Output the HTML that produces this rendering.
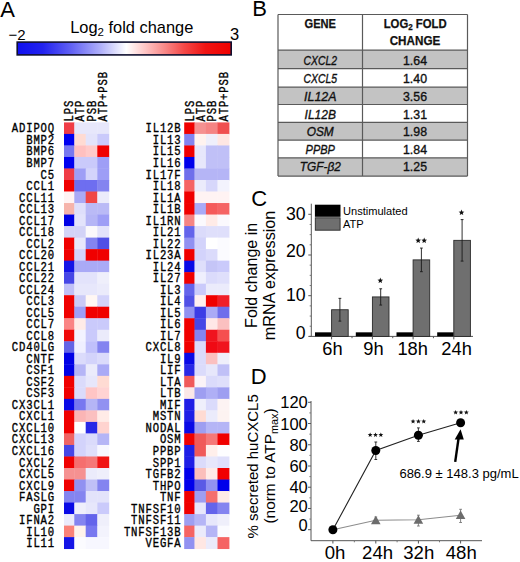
<!DOCTYPE html>
<html><head><meta charset="utf-8"><style>
html,body{margin:0;padding:0;background:#fff;width:520px;height:562px;overflow:hidden}
svg{display:block}
text{font-family:"Liberation Sans",sans-serif;fill:#000}
.g{font-family:"Liberation Mono",monospace;font-weight:normal;font-size:10.6px;letter-spacing:0.85px;stroke:#000;stroke-width:0.3px}
.th{font-weight:bold;font-size:12px;fill:#111;stroke:#111;stroke-width:0.25px}
.ti{font-style:italic;font-size:12.5px;fill:#111;stroke:#111;stroke-width:0.35px}
.tv{font-size:12.5px;fill:#111;stroke:#111;stroke-width:0.35px}
.ax{stroke:#555;stroke-width:1}
.ax2{stroke:#777;stroke-width:1}
</style></head><body>
<svg width="520" height="562" viewBox="0 0 520 562">
<defs>
<linearGradient id="cg" x1="0" x2="1" y1="0" y2="0">
<stop offset="0" stop-color="#1010f0"/>
<stop offset="0.12" stop-color="#2222f0"/>
<stop offset="0.25" stop-color="#6060f4"/>
<stop offset="0.39" stop-color="#b0b0fa"/>
<stop offset="0.51" stop-color="#ffffff"/>
<stop offset="0.6" stop-color="#ffc4c4"/>
<stop offset="0.69" stop-color="#f88888"/>
<stop offset="0.78" stop-color="#f44848"/>
<stop offset="0.88" stop-color="#f01414"/>
<stop offset="1" stop-color="#f00000"/>
</linearGradient>
</defs>
<text x="0.3" y="16.7" font-size="22">A</text>
<text x="252.2" y="16.4" font-size="22">B</text>
<text x="251.3" y="206.1" font-size="22">C</text>
<text x="250.8" y="383.8" font-size="22">D</text>
<text x="70.2" y="32.6" font-size="16.4">Log<tspan font-size="11.5" dy="3.5">2</tspan><tspan dy="-3.5"> fold change</tspan></text>
<text x="8.5" y="39.7" font-size="15">&#8722;2</text>
<text x="229.9" y="39.6" font-size="16.5">3</text>
<rect x="17.2" y="42.1" width="214" height="12.8" fill="url(#cg)" stroke="#101030" stroke-width="1.6"/>
<rect x="64" y="122.4" width="10.7" height="11.92" fill="#f03c46"/>
<rect x="74.3" y="122.4" width="11.8" height="11.92" fill="#e7e7fb"/>
<rect x="85.7" y="122.4" width="12" height="11.92" fill="#e7e7fb"/>
<rect x="97.3" y="122.4" width="11.9" height="11.92" fill="#e7e7fb"/>
<rect x="64" y="133.92" width="10.7" height="11.92" fill="#0000f0"/>
<rect x="74.3" y="133.92" width="11.8" height="11.92" fill="#ffdbd3"/>
<rect x="85.7" y="133.92" width="12" height="11.92" fill="#e3e3fb"/>
<rect x="97.3" y="133.92" width="11.9" height="11.92" fill="#cacafb"/>
<rect x="64" y="145.44" width="10.7" height="11.92" fill="#7878f0"/>
<rect x="74.3" y="145.44" width="11.8" height="11.92" fill="#ffc0c0"/>
<rect x="85.7" y="145.44" width="12" height="11.92" fill="#ffcaca"/>
<rect x="97.3" y="145.44" width="11.9" height="11.92" fill="#f00000"/>
<rect x="64" y="156.96" width="10.7" height="11.92" fill="#0000f0"/>
<rect x="74.3" y="156.96" width="11.8" height="11.92" fill="#cacafb"/>
<rect x="85.7" y="156.96" width="12" height="11.92" fill="#cacafb"/>
<rect x="97.3" y="156.96" width="11.9" height="11.92" fill="#9e9ef6"/>
<rect x="64" y="168.48" width="10.7" height="11.92" fill="#f03c46"/>
<rect x="74.3" y="168.48" width="11.8" height="11.92" fill="#9e9ef6"/>
<rect x="85.7" y="168.48" width="12" height="11.92" fill="#d3d3fb"/>
<rect x="97.3" y="168.48" width="11.9" height="11.92" fill="#9e9ef6"/>
<rect x="64" y="180" width="10.7" height="11.92" fill="#f00000"/>
<rect x="74.3" y="180" width="11.8" height="11.92" fill="#6e6ef0"/>
<rect x="85.7" y="180" width="12" height="11.92" fill="#6e6ef0"/>
<rect x="97.3" y="180" width="11.9" height="11.92" fill="#8484f0"/>
<rect x="64" y="191.52" width="10.7" height="11.92" fill="#fff3f3"/>
<rect x="74.3" y="191.52" width="11.8" height="11.92" fill="#aaaaf6"/>
<rect x="85.7" y="191.52" width="12" height="11.92" fill="#f04646"/>
<rect x="97.3" y="191.52" width="11.9" height="11.92" fill="#ebebfb"/>
<rect x="64" y="203.04" width="10.7" height="11.92" fill="#f6b4ab"/>
<rect x="74.3" y="203.04" width="11.8" height="11.92" fill="#dfdffb"/>
<rect x="85.7" y="203.04" width="12" height="11.92" fill="#babaf6"/>
<rect x="97.3" y="203.04" width="11.9" height="11.92" fill="#babaf6"/>
<rect x="64" y="214.56" width="10.7" height="11.92" fill="#0000e6"/>
<rect x="74.3" y="214.56" width="11.8" height="11.92" fill="#e3e3fb"/>
<rect x="85.7" y="214.56" width="12" height="11.92" fill="#b5b5f6"/>
<rect x="97.3" y="214.56" width="11.9" height="11.92" fill="#9e9ef6"/>
<rect x="64" y="226.08" width="10.7" height="11.92" fill="#d3d3f7"/>
<rect x="74.3" y="226.08" width="11.8" height="11.92" fill="#d3d3f7"/>
<rect x="85.7" y="226.08" width="12" height="11.92" fill="#fbf9fb"/>
<rect x="97.3" y="226.08" width="11.9" height="11.92" fill="#e3e3fb"/>
<rect x="64" y="237.6" width="10.7" height="11.92" fill="#f00000"/>
<rect x="74.3" y="237.6" width="11.8" height="11.92" fill="#e7e7fb"/>
<rect x="85.7" y="237.6" width="12" height="11.92" fill="#8484f0"/>
<rect x="97.3" y="237.6" width="11.9" height="11.92" fill="#5050e6"/>
<rect x="64" y="249.12" width="10.7" height="11.92" fill="#f00000"/>
<rect x="74.3" y="249.12" width="11.8" height="11.92" fill="#d3d3fb"/>
<rect x="85.7" y="249.12" width="12" height="11.92" fill="#f00000"/>
<rect x="97.3" y="249.12" width="11.9" height="11.92" fill="#f00000"/>
<rect x="64" y="260.64" width="10.7" height="11.92" fill="#1414e6"/>
<rect x="74.3" y="260.64" width="11.8" height="11.92" fill="#aaaaf6"/>
<rect x="85.7" y="260.64" width="12" height="11.92" fill="#aaaaf6"/>
<rect x="97.3" y="260.64" width="11.9" height="11.92" fill="#aaaaf6"/>
<rect x="64" y="272.16" width="10.7" height="11.92" fill="#4646e6"/>
<rect x="74.3" y="272.16" width="11.8" height="11.92" fill="#e3e3fb"/>
<rect x="85.7" y="272.16" width="12" height="11.92" fill="#e3e3fb"/>
<rect x="97.3" y="272.16" width="11.9" height="11.92" fill="#efeffb"/>
<rect x="64" y="283.68" width="10.7" height="11.92" fill="#c0c0f7"/>
<rect x="74.3" y="283.68" width="11.8" height="11.92" fill="#e7e7fb"/>
<rect x="85.7" y="283.68" width="12" height="11.92" fill="#e7e7fb"/>
<rect x="97.3" y="283.68" width="11.9" height="11.92" fill="#ebebfb"/>
<rect x="64" y="295.2" width="10.7" height="11.92" fill="#f00000"/>
<rect x="74.3" y="295.2" width="11.8" height="11.92" fill="#cacaf7"/>
<rect x="85.7" y="295.2" width="12" height="11.92" fill="#fff7f3"/>
<rect x="97.3" y="295.2" width="11.9" height="11.92" fill="#d3d3fb"/>
<rect x="64" y="306.72" width="10.7" height="11.92" fill="#f00000"/>
<rect x="74.3" y="306.72" width="11.8" height="11.92" fill="#9e9ef6"/>
<rect x="85.7" y="306.72" width="12" height="11.92" fill="#f00000"/>
<rect x="97.3" y="306.72" width="11.9" height="11.92" fill="#f00000"/>
<rect x="64" y="318.24" width="10.7" height="11.92" fill="#fa8484"/>
<rect x="74.3" y="318.24" width="11.8" height="11.92" fill="#ffebe7"/>
<rect x="85.7" y="318.24" width="12" height="11.92" fill="#cacafb"/>
<rect x="97.3" y="318.24" width="11.9" height="11.92" fill="#cacafb"/>
<rect x="64" y="329.76" width="10.7" height="11.92" fill="#f00a0a"/>
<rect x="74.3" y="329.76" width="11.8" height="11.92" fill="#f3f3ff"/>
<rect x="85.7" y="329.76" width="12" height="11.92" fill="#cacafb"/>
<rect x="97.3" y="329.76" width="11.9" height="11.92" fill="#ebebfb"/>
<rect x="64" y="341.28" width="10.7" height="11.92" fill="#6464e6"/>
<rect x="74.3" y="341.28" width="11.8" height="11.92" fill="#efefff"/>
<rect x="85.7" y="341.28" width="12" height="11.92" fill="#c0c0fb"/>
<rect x="97.3" y="341.28" width="11.9" height="11.92" fill="#8484f0"/>
<rect x="64" y="352.8" width="10.7" height="11.92" fill="#0000e6"/>
<rect x="74.3" y="352.8" width="11.8" height="11.92" fill="#dbdbfb"/>
<rect x="85.7" y="352.8" width="12" height="11.92" fill="#d3d3fb"/>
<rect x="97.3" y="352.8" width="11.9" height="11.92" fill="#dbdbfb"/>
<rect x="64" y="364.32" width="10.7" height="11.92" fill="#0000e6"/>
<rect x="74.3" y="364.32" width="11.8" height="11.92" fill="#b5b5f6"/>
<rect x="85.7" y="364.32" width="12" height="11.92" fill="#ebebfb"/>
<rect x="97.3" y="364.32" width="11.9" height="11.92" fill="#aaaaf6"/>
<rect x="64" y="375.84" width="10.7" height="11.92" fill="#f00000"/>
<rect x="74.3" y="375.84" width="11.8" height="11.92" fill="#dbdbfb"/>
<rect x="85.7" y="375.84" width="12" height="11.92" fill="#e7e7fb"/>
<rect x="97.3" y="375.84" width="11.9" height="11.92" fill="#ffdbd3"/>
<rect x="64" y="387.36" width="10.7" height="11.92" fill="#f00000"/>
<rect x="74.3" y="387.36" width="11.8" height="11.92" fill="#dbdbfb"/>
<rect x="85.7" y="387.36" width="12" height="11.92" fill="#ffc5c5"/>
<rect x="97.3" y="387.36" width="11.9" height="11.92" fill="#ffd3d3"/>
<rect x="64" y="398.88" width="10.7" height="11.92" fill="#0a0ae6"/>
<rect x="74.3" y="398.88" width="11.8" height="11.92" fill="#7878f0"/>
<rect x="85.7" y="398.88" width="12" height="11.92" fill="#b5b5f6"/>
<rect x="97.3" y="398.88" width="11.9" height="11.92" fill="#9191f1"/>
<rect x="64" y="410.4" width="10.7" height="11.92" fill="#f00000"/>
<rect x="74.3" y="410.4" width="11.8" height="11.92" fill="#fbb5b5"/>
<rect x="85.7" y="410.4" width="12" height="11.92" fill="#fbc0c0"/>
<rect x="97.3" y="410.4" width="11.9" height="11.92" fill="#ffebe7"/>
<rect x="64" y="421.92" width="10.7" height="11.92" fill="#f00000"/>
<rect x="74.3" y="421.92" width="11.8" height="11.92" fill="#ffffff"/>
<rect x="85.7" y="421.92" width="12" height="11.92" fill="#2828e6"/>
<rect x="97.3" y="421.92" width="11.9" height="11.92" fill="#ffd3cf"/>
<rect x="64" y="433.44" width="10.7" height="11.92" fill="#f06464"/>
<rect x="74.3" y="433.44" width="11.8" height="11.92" fill="#d3d3fb"/>
<rect x="85.7" y="433.44" width="12" height="11.92" fill="#dbdbfb"/>
<rect x="97.3" y="433.44" width="11.9" height="11.92" fill="#b5b5f6"/>
<rect x="64" y="444.96" width="10.7" height="11.92" fill="#4646e6"/>
<rect x="74.3" y="444.96" width="11.8" height="11.92" fill="#d3d3fb"/>
<rect x="85.7" y="444.96" width="12" height="11.92" fill="#dfdffb"/>
<rect x="97.3" y="444.96" width="11.9" height="11.92" fill="#f7f7ff"/>
<rect x="64" y="456.48" width="10.7" height="11.92" fill="#f00000"/>
<rect x="74.3" y="456.48" width="11.8" height="11.92" fill="#f56e6e"/>
<rect x="85.7" y="456.48" width="12" height="11.92" fill="#f57878"/>
<rect x="97.3" y="456.48" width="11.9" height="11.92" fill="#f01414"/>
<rect x="64" y="468" width="10.7" height="11.92" fill="#f59191"/>
<rect x="74.3" y="468" width="11.8" height="11.92" fill="#f59191"/>
<rect x="85.7" y="468" width="12" height="11.92" fill="#ebebfb"/>
<rect x="97.3" y="468" width="11.9" height="11.92" fill="#efeffb"/>
<rect x="64" y="479.52" width="10.7" height="11.92" fill="#f00000"/>
<rect x="74.3" y="479.52" width="11.8" height="11.92" fill="#9191f1"/>
<rect x="85.7" y="479.52" width="12" height="11.92" fill="#c0c0f7"/>
<rect x="97.3" y="479.52" width="11.9" height="11.92" fill="#8484f0"/>
<rect x="64" y="491.04" width="10.7" height="11.92" fill="#8484f0"/>
<rect x="74.3" y="491.04" width="11.8" height="11.92" fill="#8484f0"/>
<rect x="85.7" y="491.04" width="12" height="11.92" fill="#e3e3fb"/>
<rect x="97.3" y="491.04" width="11.9" height="11.92" fill="#e3e3fb"/>
<rect x="64" y="502.56" width="10.7" height="11.92" fill="#0a0ae6"/>
<rect x="74.3" y="502.56" width="11.8" height="11.92" fill="#efeffb"/>
<rect x="85.7" y="502.56" width="12" height="11.92" fill="#e7e7fb"/>
<rect x="97.3" y="502.56" width="11.9" height="11.92" fill="#cacafb"/>
<rect x="64" y="514.08" width="10.7" height="11.92" fill="#ebebfb"/>
<rect x="74.3" y="514.08" width="11.8" height="11.92" fill="#8484f0"/>
<rect x="85.7" y="514.08" width="12" height="11.92" fill="#6464eb"/>
<rect x="97.3" y="514.08" width="11.9" height="11.92" fill="#efeffb"/>
<rect x="64" y="525.6" width="10.7" height="11.92" fill="#fa8278"/>
<rect x="74.3" y="525.6" width="11.8" height="11.92" fill="#fff3eb"/>
<rect x="85.7" y="525.6" width="12" height="11.92" fill="#7878f0"/>
<rect x="97.3" y="525.6" width="11.9" height="11.92" fill="#f3f3fd"/>
<rect x="64" y="537.12" width="10.7" height="11.92" fill="#1414e6"/>
<rect x="74.3" y="537.12" width="11.8" height="11.92" fill="#fbfbff"/>
<rect x="85.7" y="537.12" width="12" height="11.92" fill="#f7f7ff"/>
<rect x="97.3" y="537.12" width="11.9" height="11.92" fill="#f7f7ff"/>
<text class="g" text-anchor="end" transform="translate(55,132.45) scale(1,1.15)">ADIPOQ</text>
<text class="g" text-anchor="end" transform="translate(55,143.97) scale(1,1.15)">BMP2</text>
<text class="g" text-anchor="end" transform="translate(55,155.49) scale(1,1.15)">BMP6</text>
<text class="g" text-anchor="end" transform="translate(55,167.01) scale(1,1.15)">BMP7</text>
<text class="g" text-anchor="end" transform="translate(55,178.53) scale(1,1.15)">C5</text>
<text class="g" text-anchor="end" transform="translate(55,190.05) scale(1,1.15)">CCL1</text>
<text class="g" text-anchor="end" transform="translate(55,201.57) scale(1,1.15)">CCL11</text>
<text class="g" text-anchor="end" transform="translate(55,213.09) scale(1,1.15)">CCL13</text>
<text class="g" text-anchor="end" transform="translate(55,224.61) scale(1,1.15)">CCL17</text>
<text class="g" text-anchor="end" transform="translate(55,236.13) scale(1,1.15)">CCL18</text>
<text class="g" text-anchor="end" transform="translate(55,247.65) scale(1,1.15)">CCL2</text>
<text class="g" text-anchor="end" transform="translate(55,259.17) scale(1,1.15)">CCL20</text>
<text class="g" text-anchor="end" transform="translate(55,270.69) scale(1,1.15)">CCL21</text>
<text class="g" text-anchor="end" transform="translate(55,282.21) scale(1,1.15)">CCL22</text>
<text class="g" text-anchor="end" transform="translate(55,293.73) scale(1,1.15)">CCL24</text>
<text class="g" text-anchor="end" transform="translate(55,305.25) scale(1,1.15)">CCL3</text>
<text class="g" text-anchor="end" transform="translate(55,316.77) scale(1,1.15)">CCL5</text>
<text class="g" text-anchor="end" transform="translate(55,328.29) scale(1,1.15)">CCL7</text>
<text class="g" text-anchor="end" transform="translate(55,339.81) scale(1,1.15)">CCL8</text>
<text class="g" text-anchor="end" transform="translate(55,351.33) scale(1,1.15)">CD40LG</text>
<text class="g" text-anchor="end" transform="translate(55,362.85) scale(1,1.15)">CNTF</text>
<text class="g" text-anchor="end" transform="translate(55,374.37) scale(1,1.15)">CSF1</text>
<text class="g" text-anchor="end" transform="translate(55,385.89) scale(1,1.15)">CSF2</text>
<text class="g" text-anchor="end" transform="translate(55,397.41) scale(1,1.15)">CSF3</text>
<text class="g" text-anchor="end" transform="translate(55,408.93) scale(1,1.15)">CX3CL1</text>
<text class="g" text-anchor="end" transform="translate(55,420.45) scale(1,1.15)">CXCL1</text>
<text class="g" text-anchor="end" transform="translate(55,431.97) scale(1,1.15)">CXCL10</text>
<text class="g" text-anchor="end" transform="translate(55,443.49) scale(1,1.15)">CXCL13</text>
<text class="g" text-anchor="end" transform="translate(55,455.01) scale(1,1.15)">CXCL16</text>
<text class="g" text-anchor="end" transform="translate(55,466.53) scale(1,1.15)">CXCL2</text>
<text class="g" text-anchor="end" transform="translate(55,478.05) scale(1,1.15)">CXCL5</text>
<text class="g" text-anchor="end" transform="translate(55,489.57) scale(1,1.15)">CXCL9</text>
<text class="g" text-anchor="end" transform="translate(55,501.09) scale(1,1.15)">FASLG</text>
<text class="g" text-anchor="end" transform="translate(55,512.61) scale(1,1.15)">GPI</text>
<text class="g" text-anchor="end" transform="translate(55,524.13) scale(1,1.15)">IFNA2</text>
<text class="g" text-anchor="end" transform="translate(55,535.65) scale(1,1.15)">IL10</text>
<text class="g" text-anchor="end" transform="translate(55,547.17) scale(1,1.15)">IL11</text>
<text class="g" transform="translate(73.45,121.5) rotate(-90) scale(1,1.22)">LPS</text>
<text class="g" transform="translate(84.3,121.5) rotate(-90) scale(1,1.22)">ATP</text>
<text class="g" transform="translate(95.8,121.5) rotate(-90) scale(1,1.22)">PSB</text>
<text class="g" transform="translate(107.35,121.5) rotate(-90) scale(1,1.22)">ATP+PSB</text>
<rect x="184.2" y="122.4" width="10.7" height="11.92" fill="#f00000"/>
<rect x="194.5" y="122.4" width="11.8" height="11.92" fill="#f59191"/>
<rect x="205.9" y="122.4" width="12" height="11.92" fill="#f58484"/>
<rect x="217.5" y="122.4" width="11.9" height="11.92" fill="#f05050"/>
<rect x="184.2" y="133.92" width="10.7" height="11.92" fill="#8484f0"/>
<rect x="194.5" y="133.92" width="11.8" height="11.92" fill="#fff3ef"/>
<rect x="205.9" y="133.92" width="12" height="11.92" fill="#efeffb"/>
<rect x="217.5" y="133.92" width="11.9" height="11.92" fill="#ffe7e3"/>
<rect x="184.2" y="145.44" width="10.7" height="11.92" fill="#f00000"/>
<rect x="194.5" y="145.44" width="11.8" height="11.92" fill="#e7e7fb"/>
<rect x="205.9" y="145.44" width="12" height="11.92" fill="#c0c0f7"/>
<rect x="217.5" y="145.44" width="11.9" height="11.92" fill="#c0c0f7"/>
<rect x="184.2" y="156.96" width="10.7" height="11.92" fill="#0000eb"/>
<rect x="194.5" y="156.96" width="11.8" height="11.92" fill="#e7e7fb"/>
<rect x="205.9" y="156.96" width="12" height="11.92" fill="#c0c0f7"/>
<rect x="217.5" y="156.96" width="11.9" height="11.92" fill="#c0c0f7"/>
<rect x="184.2" y="168.48" width="10.7" height="11.92" fill="#6e6eeb"/>
<rect x="194.5" y="168.48" width="11.8" height="11.92" fill="#b5b5f6"/>
<rect x="205.9" y="168.48" width="12" height="11.92" fill="#b5b5f6"/>
<rect x="217.5" y="168.48" width="11.9" height="11.92" fill="#b5b5f6"/>
<rect x="184.2" y="180" width="10.7" height="11.92" fill="#f56464"/>
<rect x="194.5" y="180" width="11.8" height="11.92" fill="#ebebfb"/>
<rect x="205.9" y="180" width="12" height="11.92" fill="#d7d7fb"/>
<rect x="217.5" y="180" width="11.9" height="11.92" fill="#f3f3fd"/>
<rect x="184.2" y="191.52" width="10.7" height="11.92" fill="#f00000"/>
<rect x="194.5" y="191.52" width="11.8" height="11.92" fill="#fff3f3"/>
<rect x="205.9" y="191.52" width="12" height="11.92" fill="#fff3f3"/>
<rect x="217.5" y="191.52" width="11.9" height="11.92" fill="#fff3f3"/>
<rect x="184.2" y="203.04" width="10.7" height="11.92" fill="#f00000"/>
<rect x="194.5" y="203.04" width="11.8" height="11.92" fill="#aaaaf6"/>
<rect x="205.9" y="203.04" width="12" height="11.92" fill="#f55a5a"/>
<rect x="217.5" y="203.04" width="11.9" height="11.92" fill="#f56464"/>
<rect x="184.2" y="214.56" width="10.7" height="11.92" fill="#f58484"/>
<rect x="194.5" y="214.56" width="11.8" height="11.92" fill="#fbf9fd"/>
<rect x="205.9" y="214.56" width="12" height="11.92" fill="#ffebe7"/>
<rect x="217.5" y="214.56" width="11.9" height="11.92" fill="#fbf9fd"/>
<rect x="184.2" y="226.08" width="10.7" height="11.92" fill="#6464eb"/>
<rect x="194.5" y="226.08" width="11.8" height="11.92" fill="#dbdbfb"/>
<rect x="205.9" y="226.08" width="12" height="11.92" fill="#dfdffb"/>
<rect x="217.5" y="226.08" width="11.9" height="11.92" fill="#dfdffb"/>
<rect x="184.2" y="237.6" width="10.7" height="11.92" fill="#9191f1"/>
<rect x="194.5" y="237.6" width="11.8" height="11.92" fill="#d3d3fb"/>
<rect x="205.9" y="237.6" width="12" height="11.92" fill="#ffffff"/>
<rect x="217.5" y="237.6" width="11.9" height="11.92" fill="#fbfbff"/>
<rect x="184.2" y="249.12" width="10.7" height="11.92" fill="#f00000"/>
<rect x="194.5" y="249.12" width="11.8" height="11.92" fill="#d3d3fb"/>
<rect x="205.9" y="249.12" width="12" height="11.92" fill="#dbdbfb"/>
<rect x="217.5" y="249.12" width="11.9" height="11.92" fill="#fbfbff"/>
<rect x="184.2" y="260.64" width="10.7" height="11.92" fill="#0a0ae6"/>
<rect x="194.5" y="260.64" width="11.8" height="11.92" fill="#dfdffb"/>
<rect x="205.9" y="260.64" width="12" height="11.92" fill="#c5c5f7"/>
<rect x="217.5" y="260.64" width="11.9" height="11.92" fill="#cacafb"/>
<rect x="184.2" y="272.16" width="10.7" height="11.92" fill="#f00000"/>
<rect x="194.5" y="272.16" width="11.8" height="11.92" fill="#efeffd"/>
<rect x="205.9" y="272.16" width="12" height="11.92" fill="#dbdbfb"/>
<rect x="217.5" y="272.16" width="11.9" height="11.92" fill="#dfdffb"/>
<rect x="184.2" y="283.68" width="10.7" height="11.92" fill="#6464eb"/>
<rect x="194.5" y="283.68" width="11.8" height="11.92" fill="#cacafb"/>
<rect x="205.9" y="283.68" width="12" height="11.92" fill="#ebebfb"/>
<rect x="217.5" y="283.68" width="11.9" height="11.92" fill="#ebebfb"/>
<rect x="184.2" y="295.2" width="10.7" height="11.92" fill="#5050e6"/>
<rect x="194.5" y="295.2" width="11.8" height="11.92" fill="#ffefef"/>
<rect x="205.9" y="295.2" width="12" height="11.92" fill="#f00000"/>
<rect x="217.5" y="295.2" width="11.9" height="11.92" fill="#f01e28"/>
<rect x="184.2" y="306.72" width="10.7" height="11.92" fill="#9191f1"/>
<rect x="194.5" y="306.72" width="11.8" height="11.92" fill="#3c3ce6"/>
<rect x="205.9" y="306.72" width="12" height="11.92" fill="#aaaaf6"/>
<rect x="217.5" y="306.72" width="11.9" height="11.92" fill="#6e6eeb"/>
<rect x="184.2" y="318.24" width="10.7" height="11.92" fill="#f00000"/>
<rect x="194.5" y="318.24" width="11.8" height="11.92" fill="#4646e6"/>
<rect x="205.9" y="318.24" width="12" height="11.92" fill="#ffe7e7"/>
<rect x="217.5" y="318.24" width="11.9" height="11.92" fill="#fbc0c0"/>
<rect x="184.2" y="329.76" width="10.7" height="11.92" fill="#f00000"/>
<rect x="194.5" y="329.76" width="11.8" height="11.92" fill="#8484f0"/>
<rect x="205.9" y="329.76" width="12" height="11.92" fill="#f0141e"/>
<rect x="217.5" y="329.76" width="11.9" height="11.92" fill="#f55050"/>
<rect x="184.2" y="341.28" width="10.7" height="11.92" fill="#f00000"/>
<rect x="194.5" y="341.28" width="11.8" height="11.92" fill="#dbdbfb"/>
<rect x="205.9" y="341.28" width="12" height="11.92" fill="#f00a14"/>
<rect x="217.5" y="341.28" width="11.9" height="11.92" fill="#f0141e"/>
<rect x="184.2" y="352.8" width="10.7" height="11.92" fill="#0a0ae6"/>
<rect x="194.5" y="352.8" width="11.8" height="11.92" fill="#dbdbfb"/>
<rect x="205.9" y="352.8" width="12" height="11.92" fill="#fbc0c0"/>
<rect x="217.5" y="352.8" width="11.9" height="11.92" fill="#efeffb"/>
<rect x="184.2" y="364.32" width="10.7" height="11.92" fill="#2828e6"/>
<rect x="194.5" y="364.32" width="11.8" height="11.92" fill="#dbdbfb"/>
<rect x="205.9" y="364.32" width="12" height="11.92" fill="#e7e7fb"/>
<rect x="217.5" y="364.32" width="11.9" height="11.92" fill="#c0c0f7"/>
<rect x="184.2" y="375.84" width="10.7" height="11.92" fill="#f05a5a"/>
<rect x="194.5" y="375.84" width="11.8" height="11.92" fill="#fbf3f7"/>
<rect x="205.9" y="375.84" width="12" height="11.92" fill="#dbdbfb"/>
<rect x="217.5" y="375.84" width="11.9" height="11.92" fill="#dfdffb"/>
<rect x="184.2" y="387.36" width="10.7" height="11.92" fill="#fbe7e7"/>
<rect x="194.5" y="387.36" width="11.8" height="11.92" fill="#9e9ef1"/>
<rect x="205.9" y="387.36" width="12" height="11.92" fill="#afaff6"/>
<rect x="217.5" y="387.36" width="11.9" height="11.92" fill="#9e9ef1"/>
<rect x="184.2" y="398.88" width="10.7" height="11.92" fill="#1e1ee6"/>
<rect x="194.5" y="398.88" width="11.8" height="11.92" fill="#efeffb"/>
<rect x="205.9" y="398.88" width="12" height="11.92" fill="#dbdbfb"/>
<rect x="217.5" y="398.88" width="11.9" height="11.92" fill="#fdf3f3"/>
<rect x="184.2" y="410.4" width="10.7" height="11.92" fill="#1e1ee6"/>
<rect x="194.5" y="410.4" width="11.8" height="11.92" fill="#ffdbd3"/>
<rect x="205.9" y="410.4" width="12" height="11.92" fill="#ebebfb"/>
<rect x="217.5" y="410.4" width="11.9" height="11.92" fill="#fdf3f1"/>
<rect x="184.2" y="421.92" width="10.7" height="11.92" fill="#0a0ae6"/>
<rect x="194.5" y="421.92" width="11.8" height="11.92" fill="#9e9ef1"/>
<rect x="205.9" y="421.92" width="12" height="11.92" fill="#b5b5f6"/>
<rect x="217.5" y="421.92" width="11.9" height="11.92" fill="#b5b5f6"/>
<rect x="184.2" y="433.44" width="10.7" height="11.92" fill="#f00000"/>
<rect x="194.5" y="433.44" width="11.8" height="11.92" fill="#f05a5a"/>
<rect x="205.9" y="433.44" width="12" height="11.92" fill="#f57878"/>
<rect x="217.5" y="433.44" width="11.9" height="11.92" fill="#f00000"/>
<rect x="184.2" y="444.96" width="10.7" height="11.92" fill="#1e1ee6"/>
<rect x="194.5" y="444.96" width="11.8" height="11.92" fill="#f05a5a"/>
<rect x="205.9" y="444.96" width="12" height="11.92" fill="#ffefeb"/>
<rect x="217.5" y="444.96" width="11.9" height="11.92" fill="#fdfdff"/>
<rect x="184.2" y="456.48" width="10.7" height="11.92" fill="#1e1ee6"/>
<rect x="194.5" y="456.48" width="11.8" height="11.92" fill="#dbdbfb"/>
<rect x="205.9" y="456.48" width="12" height="11.92" fill="#e7e7fb"/>
<rect x="217.5" y="456.48" width="11.9" height="11.92" fill="#dfdffb"/>
<rect x="184.2" y="468" width="10.7" height="11.92" fill="#0000eb"/>
<rect x="194.5" y="468" width="11.8" height="11.92" fill="#fbbfbb"/>
<rect x="205.9" y="468" width="12" height="11.92" fill="#ffebe7"/>
<rect x="217.5" y="468" width="11.9" height="11.92" fill="#f00000"/>
<rect x="184.2" y="479.52" width="10.7" height="11.92" fill="#0000eb"/>
<rect x="194.5" y="479.52" width="11.8" height="11.92" fill="#5a5ae6"/>
<rect x="205.9" y="479.52" width="12" height="11.92" fill="#9191f1"/>
<rect x="217.5" y="479.52" width="11.9" height="11.92" fill="#0000eb"/>
<rect x="184.2" y="491.04" width="10.7" height="11.92" fill="#f00000"/>
<rect x="194.5" y="491.04" width="11.8" height="11.92" fill="#9e9ef1"/>
<rect x="205.9" y="491.04" width="12" height="11.92" fill="#f56e6e"/>
<rect x="217.5" y="491.04" width="11.9" height="11.92" fill="#ffebe7"/>
<rect x="184.2" y="502.56" width="10.7" height="11.92" fill="#f00000"/>
<rect x="194.5" y="502.56" width="11.8" height="11.92" fill="#e7e7fb"/>
<rect x="205.9" y="502.56" width="12" height="11.92" fill="#6464eb"/>
<rect x="217.5" y="502.56" width="11.9" height="11.92" fill="#8484f0"/>
<rect x="184.2" y="514.08" width="10.7" height="11.92" fill="#9e9ef1"/>
<rect x="194.5" y="514.08" width="11.8" height="11.92" fill="#b5b5f6"/>
<rect x="205.9" y="514.08" width="12" height="11.92" fill="#e7e7fb"/>
<rect x="217.5" y="514.08" width="11.9" height="11.92" fill="#efeffb"/>
<rect x="184.2" y="525.6" width="10.7" height="11.92" fill="#f56464"/>
<rect x="194.5" y="525.6" width="11.8" height="11.92" fill="#ebebfb"/>
<rect x="205.9" y="525.6" width="12" height="11.92" fill="#b5b5f6"/>
<rect x="217.5" y="525.6" width="11.9" height="11.92" fill="#fbfbff"/>
<rect x="184.2" y="537.12" width="10.7" height="11.92" fill="#9191f1"/>
<rect x="194.5" y="537.12" width="11.8" height="11.92" fill="#ffe7e3"/>
<rect x="205.9" y="537.12" width="12" height="11.92" fill="#ebebfb"/>
<rect x="217.5" y="537.12" width="11.9" height="11.92" fill="#f56464"/>
<text class="g" text-anchor="end" transform="translate(181.5,132.45) scale(1,1.15)">IL12B</text>
<text class="g" text-anchor="end" transform="translate(181.5,143.97) scale(1,1.15)">IL13</text>
<text class="g" text-anchor="end" transform="translate(181.5,155.49) scale(1,1.15)">IL15</text>
<text class="g" text-anchor="end" transform="translate(181.5,167.01) scale(1,1.15)">IL16</text>
<text class="g" text-anchor="end" transform="translate(181.5,178.53) scale(1,1.15)">IL17F</text>
<text class="g" text-anchor="end" transform="translate(181.5,190.05) scale(1,1.15)">IL18</text>
<text class="g" text-anchor="end" transform="translate(181.5,201.57) scale(1,1.15)">IL1A</text>
<text class="g" text-anchor="end" transform="translate(181.5,213.09) scale(1,1.15)">IL1B</text>
<text class="g" text-anchor="end" transform="translate(181.5,224.61) scale(1,1.15)">IL1RN</text>
<text class="g" text-anchor="end" transform="translate(181.5,236.13) scale(1,1.15)">IL21</text>
<text class="g" text-anchor="end" transform="translate(181.5,247.65) scale(1,1.15)">IL22</text>
<text class="g" text-anchor="end" transform="translate(181.5,259.17) scale(1,1.15)">IL23A</text>
<text class="g" text-anchor="end" transform="translate(181.5,270.69) scale(1,1.15)">IL24</text>
<text class="g" text-anchor="end" transform="translate(181.5,282.21) scale(1,1.15)">IL27</text>
<text class="g" text-anchor="end" transform="translate(181.5,293.73) scale(1,1.15)">IL3</text>
<text class="g" text-anchor="end" transform="translate(181.5,305.25) scale(1,1.15)">IL4</text>
<text class="g" text-anchor="end" transform="translate(181.5,316.77) scale(1,1.15)">IL5</text>
<text class="g" text-anchor="end" transform="translate(181.5,328.29) scale(1,1.15)">IL6</text>
<text class="g" text-anchor="end" transform="translate(181.5,339.81) scale(1,1.15)">IL7</text>
<text class="g" text-anchor="end" transform="translate(181.5,351.33) scale(1,1.15)">CXCL8</text>
<text class="g" text-anchor="end" transform="translate(181.5,362.85) scale(1,1.15)">IL9</text>
<text class="g" text-anchor="end" transform="translate(181.5,374.37) scale(1,1.15)">LIF</text>
<text class="g" text-anchor="end" transform="translate(181.5,385.89) scale(1,1.15)">LTA</text>
<text class="g" text-anchor="end" transform="translate(181.5,397.41) scale(1,1.15)">LTB</text>
<text class="g" text-anchor="end" transform="translate(181.5,408.93) scale(1,1.15)">MIF</text>
<text class="g" text-anchor="end" transform="translate(181.5,420.45) scale(1,1.15)">MSTN</text>
<text class="g" text-anchor="end" transform="translate(181.5,431.97) scale(1,1.15)">NODAL</text>
<text class="g" text-anchor="end" transform="translate(181.5,443.49) scale(1,1.15)">OSM</text>
<text class="g" text-anchor="end" transform="translate(181.5,455.01) scale(1,1.15)">PPBP</text>
<text class="g" text-anchor="end" transform="translate(181.5,466.53) scale(1,1.15)">SPP1</text>
<text class="g" text-anchor="end" transform="translate(181.5,478.05) scale(1,1.15)">TGFB2</text>
<text class="g" text-anchor="end" transform="translate(181.5,489.57) scale(1,1.15)">THPO</text>
<text class="g" text-anchor="end" transform="translate(181.5,501.09) scale(1,1.15)">TNF</text>
<text class="g" text-anchor="end" transform="translate(181.5,512.61) scale(1,1.15)">TNFSF10</text>
<text class="g" text-anchor="end" transform="translate(181.5,524.13) scale(1,1.15)">TNFSF11</text>
<text class="g" text-anchor="end" transform="translate(181.5,535.65) scale(1,1.15)">TNFSF13B</text>
<text class="g" text-anchor="end" transform="translate(181.5,547.17) scale(1,1.15)">VEGFA</text>
<text class="g" transform="translate(193.65,121.5) rotate(-90) scale(1,1.22)">LPS</text>
<text class="g" transform="translate(204.5,121.5) rotate(-90) scale(1,1.22)">ATP</text>
<text class="g" transform="translate(216,121.5) rotate(-90) scale(1,1.22)">PSB</text>
<text class="g" transform="translate(227.55,121.5) rotate(-90) scale(1,1.22)">ATP+PSB</text>
<rect x="278" y="50.2" width="189.5" height="18.5" fill="#c3c3c3"/>
<rect x="278" y="68.7" width="189.5" height="18.4" fill="#ffffff"/>
<rect x="278" y="87.1" width="189.5" height="17.4" fill="#c3c3c3"/>
<rect x="278" y="104.5" width="189.5" height="17.8" fill="#ffffff"/>
<rect x="278" y="122.3" width="189.5" height="17.8" fill="#c3c3c3"/>
<rect x="278" y="140.1" width="189.5" height="17.8" fill="#ffffff"/>
<rect x="278" y="157.9" width="189.5" height="18.2" fill="#c3c3c3"/>
<text x="320.25" y="65.2" class="ti" text-anchor="middle" textLength="33.5" lengthAdjust="spacingAndGlyphs">CXCL2</text>
<text x="415" y="65.2" class="tv" text-anchor="middle" textLength="24" lengthAdjust="spacingAndGlyphs">1.64</text>
<text x="320.25" y="82.7" class="ti" text-anchor="middle" textLength="33.5" lengthAdjust="spacingAndGlyphs">CXCL5</text>
<text x="415" y="82.7" class="tv" text-anchor="middle" textLength="24" lengthAdjust="spacingAndGlyphs">1.40</text>
<text x="320.25" y="100.8" class="ti" text-anchor="middle" textLength="32.4" lengthAdjust="spacingAndGlyphs">IL12A</text>
<text x="415" y="100.8" class="tv" text-anchor="middle" textLength="24" lengthAdjust="spacingAndGlyphs">3.56</text>
<text x="320.25" y="118.5" class="ti" text-anchor="middle" textLength="31.3" lengthAdjust="spacingAndGlyphs">IL12B</text>
<text x="415" y="118.5" class="tv" text-anchor="middle" textLength="24" lengthAdjust="spacingAndGlyphs">1.31</text>
<text x="320.25" y="136" class="ti" text-anchor="middle" textLength="27.1" lengthAdjust="spacingAndGlyphs">OSM</text>
<text x="415" y="136" class="tv" text-anchor="middle" textLength="24" lengthAdjust="spacingAndGlyphs">1.98</text>
<text x="320.25" y="153.8" class="ti" text-anchor="middle" textLength="29.4" lengthAdjust="spacingAndGlyphs">PPBP</text>
<text x="415" y="153.8" class="tv" text-anchor="middle" textLength="24" lengthAdjust="spacingAndGlyphs">1.84</text>
<text x="320.25" y="171.4" class="ti" text-anchor="middle" textLength="41" lengthAdjust="spacingAndGlyphs">TGF-&#946;2</text>
<text x="415" y="171.4" class="tv" text-anchor="middle" textLength="24" lengthAdjust="spacingAndGlyphs">1.25</text>
<path d="M278 50.2H467.5M278 68.7H467.5M278 87.1H467.5M278 104.5H467.5M278 122.3H467.5M278 140.1H467.5M278 157.9H467.5M278 176.1H467.5M278 14.5H467.5M278 14.5V176.1M362.5 14.5V176.1M467.5 14.5V176.1" stroke="#5a5a5a" stroke-width="1.2" fill="none"/>
<text x="320.25" y="28" class="th" text-anchor="middle" textLength="31.5" lengthAdjust="spacingAndGlyphs">GENE</text>
<text x="383.7" y="28" class="th" textLength="63" lengthAdjust="spacingAndGlyphs">LOG<tspan font-size="8.5" dy="1.5">2</tspan><tspan dy="-1.5"> FOLD</tspan></text>
<text x="415" y="44.6" class="th" text-anchor="middle" textLength="50.6" lengthAdjust="spacingAndGlyphs">CHANGE</text>
<line x1="311.3" y1="203.7" x2="311.3" y2="336.4" class="ax"/>
<line x1="309.3" y1="336.4" x2="473" y2="336.4" class="ax"/>
<rect x="315" y="332.33" width="16.6" height="4.07" fill="#000"/>
<rect x="331.6" y="309.74" width="16.6" height="26.66" fill="#6f6f6f" stroke="#2a2a2a" stroke-width="0.9"/>
<path d="M339.9 298.35V321.14M338.5 298.35H341.3M338.5 321.14H341.3" stroke="#1a1a1a" stroke-width="0.9" fill="none"/>
<line x1="331.6" y1="336.4" x2="331.6" y2="339.4" class="ax"/>
<line x1="352" y1="336.4" x2="352" y2="338.2" class="ax"/>
<rect x="355.8" y="332.33" width="16.6" height="4.07" fill="#000"/>
<rect x="372.4" y="296.92" width="16.6" height="39.48" fill="#6f6f6f" stroke="#2a2a2a" stroke-width="0.9"/>
<path d="M380.7 288.78V305.06M379.3 288.78H382.1M379.3 305.06H382.1" stroke="#1a1a1a" stroke-width="0.9" fill="none"/>
<line x1="372.4" y1="336.4" x2="372.4" y2="339.4" class="ax"/>
<line x1="392.75" y1="336.4" x2="392.75" y2="338.2" class="ax"/>
<rect x="396.5" y="332.33" width="16.6" height="4.07" fill="#000"/>
<rect x="413.1" y="259.88" width="16.6" height="76.52" fill="#6f6f6f" stroke="#2a2a2a" stroke-width="0.9"/>
<path d="M421.4 248.08V271.69M420 248.08H422.8M420 271.69H422.8" stroke="#1a1a1a" stroke-width="0.9" fill="none"/>
<line x1="413.1" y1="336.4" x2="413.1" y2="339.4" class="ax"/>
<line x1="433.45" y1="336.4" x2="433.45" y2="338.2" class="ax"/>
<rect x="437.2" y="332.33" width="16.6" height="4.07" fill="#000"/>
<rect x="453.8" y="240.35" width="16.6" height="96.05" fill="#6f6f6f" stroke="#2a2a2a" stroke-width="0.9"/>
<path d="M462.1 219.59V261.1M460.7 219.59H463.5M460.7 261.1H463.5" stroke="#1a1a1a" stroke-width="0.9" fill="none"/>
<line x1="453.8" y1="336.4" x2="453.8" y2="339.4" class="ax"/>
<text x="332.5" y="355.3" text-anchor="middle" font-size="18.3">6h</text>
<text x="373.5" y="355.3" text-anchor="middle" font-size="18.3">9h</text>
<text x="412.7" y="355.3" text-anchor="middle" font-size="18.3">18h</text>
<text x="456.6" y="355.3" text-anchor="middle" font-size="18.3">24h</text>
<polygon points="380.3,277.6 381.06,279.55 383.15,279.67 381.54,281 382.06,283.03 380.3,281.9 378.54,283.03 379.06,281 377.45,279.67 379.54,279.55" fill="#111"/>
<polygon points="418.2,237.6 418.96,239.55 421.05,239.67 419.44,241 419.96,243.03 418.2,241.9 416.44,243.03 416.96,241 415.35,239.67 417.44,239.55" fill="#111"/>
<polygon points="424.2,237.6 424.96,239.55 427.05,239.67 425.44,241 425.96,243.03 424.2,241.9 422.44,243.03 422.96,241 421.35,239.67 423.44,239.55" fill="#111"/>
<polygon points="461.5,209.6 462.26,211.55 464.35,211.67 462.74,213 463.26,215.03 461.5,213.9 459.74,215.03 460.26,213 458.65,211.67 460.74,211.55" fill="#111"/>
<line x1="308.3" y1="336.4" x2="311.3" y2="336.4" class="ax"/>
<text x="305.7" y="338.5" text-anchor="end" font-size="17.7">0</text>
<line x1="308.3" y1="295.7" x2="311.3" y2="295.7" class="ax"/>
<text x="305.7" y="300.6" text-anchor="end" font-size="17.7">10</text>
<line x1="308.3" y1="255" x2="311.3" y2="255" class="ax"/>
<text x="305.7" y="257.4" text-anchor="end" font-size="17.7">20</text>
<line x1="308.3" y1="214.3" x2="311.3" y2="214.3" class="ax"/>
<text x="305.7" y="220.4" text-anchor="end" font-size="17.7">30</text>
<line x1="309.7" y1="326.22" x2="311.3" y2="326.22" class="ax2"/>
<line x1="309.7" y1="316.05" x2="311.3" y2="316.05" class="ax2"/>
<line x1="309.7" y1="305.88" x2="311.3" y2="305.88" class="ax2"/>
<line x1="309.7" y1="285.52" x2="311.3" y2="285.52" class="ax2"/>
<line x1="309.7" y1="275.35" x2="311.3" y2="275.35" class="ax2"/>
<line x1="309.7" y1="265.17" x2="311.3" y2="265.17" class="ax2"/>
<line x1="309.7" y1="244.82" x2="311.3" y2="244.82" class="ax2"/>
<line x1="309.7" y1="234.65" x2="311.3" y2="234.65" class="ax2"/>
<line x1="309.7" y1="224.47" x2="311.3" y2="224.47" class="ax2"/>
<rect x="314.9" y="204.7" width="25.6" height="12.1" fill="#000"/>
<rect x="315.3" y="217.8" width="24.8" height="12.4" fill="#6f6f6f" stroke="#2a2a2a" stroke-width="0.9"/>
<text x="343" y="214.6" font-size="11.1" textLength="64.6" lengthAdjust="spacingAndGlyphs">Unstimulated</text>
<text x="343" y="227.6" font-size="11.1">ATP</text>
<text transform="translate(257.2,275.4) rotate(-90)" text-anchor="middle" font-size="15.9" textLength="105" lengthAdjust="spacingAndGlyphs">Fold change in</text>
<text transform="translate(274.9,275.4) rotate(-90)" text-anchor="middle" font-size="16" textLength="129.5" lengthAdjust="spacingAndGlyphs">mRNA expression</text>
<line x1="311" y1="401" x2="311" y2="540.7" class="ax"/>
<line x1="311" y1="540.7" x2="482" y2="540.7" class="ax"/>
<line x1="308" y1="529.7" x2="311" y2="529.7" class="ax"/>
<text x="307.8" y="531.1" text-anchor="end" font-size="16.5">0</text>
<line x1="308" y1="508.47" x2="311" y2="508.47" class="ax"/>
<text x="307.8" y="512" text-anchor="end" font-size="16.5">20</text>
<line x1="308" y1="487.23" x2="311" y2="487.23" class="ax"/>
<text x="307.8" y="493.2" text-anchor="end" font-size="16.5">40</text>
<line x1="308" y1="466" x2="311" y2="466" class="ax"/>
<text x="307.8" y="471.6" text-anchor="end" font-size="16.5">60</text>
<line x1="308" y1="444.76" x2="311" y2="444.76" class="ax"/>
<text x="307.8" y="450.7" text-anchor="end" font-size="16.5">80</text>
<line x1="308" y1="423.53" x2="311" y2="423.53" class="ax"/>
<text x="307.8" y="430" text-anchor="end" font-size="16.5">100</text>
<line x1="308" y1="402.3" x2="311" y2="402.3" class="ax"/>
<text x="307.8" y="407.7" text-anchor="end" font-size="16.5">120</text>
<line x1="309.4" y1="519.08" x2="311" y2="519.08" class="ax2"/>
<line x1="309.4" y1="497.85" x2="311" y2="497.85" class="ax2"/>
<line x1="309.4" y1="476.62" x2="311" y2="476.62" class="ax2"/>
<line x1="309.4" y1="455.38" x2="311" y2="455.38" class="ax2"/>
<line x1="309.4" y1="434.15" x2="311" y2="434.15" class="ax2"/>
<line x1="309.4" y1="412.91" x2="311" y2="412.91" class="ax2"/>
<line x1="332.9" y1="540.7" x2="332.9" y2="543.5" class="ax"/>
<text x="335" y="559.3" text-anchor="middle" font-size="18.6">0h</text>
<line x1="375.8" y1="540.7" x2="375.8" y2="543.5" class="ax"/>
<text x="377.6" y="559.3" text-anchor="middle" font-size="18.6">24h</text>
<line x1="418.4" y1="540.7" x2="418.4" y2="543.5" class="ax"/>
<text x="418.8" y="559.3" text-anchor="middle" font-size="18.6">32h</text>
<line x1="460.6" y1="540.7" x2="460.6" y2="543.5" class="ax"/>
<text x="461.3" y="559.3" text-anchor="middle" font-size="18.6">48h</text>
<line x1="354.35" y1="540.7" x2="354.35" y2="542.3" class="ax2"/>
<line x1="397.1" y1="540.7" x2="397.1" y2="542.3" class="ax2"/>
<line x1="439.5" y1="540.7" x2="439.5" y2="542.3" class="ax2"/>
<polyline points="332.9,529.8 375.8,520.3 418.4,519.8 460.6,515.2" fill="none" stroke="#8c8c8c" stroke-width="1.1"/>
<path d="M375.8 517V523.5M374.40000000000003 517H377.2M374.40000000000003 523.5H377.2" stroke="#777" stroke-width="0.9" fill="none"/>
<polygon points="371,524.2 380.6,524.2 375.8,515.7" fill="#6c6c6c"/>
<path d="M418.4 515.2V526M417.0 515.2H419.79999999999995M417.0 526H419.79999999999995" stroke="#777" stroke-width="0.9" fill="none"/>
<polygon points="413.6,523.7 423.2,523.7 418.4,515.2" fill="#6c6c6c"/>
<path d="M460.6 509.3V522.5M459.20000000000005 509.3H462.0M459.20000000000005 522.5H462.0" stroke="#777" stroke-width="0.9" fill="none"/>
<polygon points="455.8,519.1 465.4,519.1 460.6,510.6" fill="#6c6c6c"/>
<polyline points="332.9,529.8 375.8,450.5 418.4,435.2 460.6,422.7" fill="none" stroke="#222" stroke-width="1.1"/>
<circle cx="332.9" cy="529.8" r="4.5" fill="#000"/>
<path d="M375.8 442V459.5M374.40000000000003 442H377.2M374.40000000000003 459.5H377.2" stroke="#222" stroke-width="0.9" fill="none"/>
<circle cx="375.8" cy="450.5" r="4.5" fill="#000"/>
<path d="M418.4 427.9V441.4M417.0 427.9H419.79999999999995M417.0 441.4H419.79999999999995" stroke="#222" stroke-width="0.9" fill="none"/>
<circle cx="418.4" cy="435.2" r="4.5" fill="#000"/>
<circle cx="460.6" cy="422.7" r="4.5" fill="#000"/>
<polygon points="370.15,432.4 370.8,434.11 372.62,434.2 371.2,435.34 371.68,437.1 370.15,436.1 368.62,437.1 369.1,435.34 367.68,434.2 369.5,434.11" fill="#111"/>
<polygon points="375.5,432.4 376.15,434.11 377.97,434.2 376.55,435.34 377.03,437.1 375.5,436.1 373.97,437.1 374.45,435.34 373.03,434.2 374.85,434.11" fill="#111"/>
<polygon points="380.85,432.4 381.5,434.11 383.32,434.2 381.9,435.34 382.38,437.1 380.85,436.1 379.32,437.1 379.8,435.34 378.38,434.2 380.2,434.11" fill="#111"/>
<polygon points="413.05,418.9 413.7,420.61 415.52,420.7 414.1,421.84 414.58,423.6 413.05,422.6 411.52,423.6 412,421.84 410.58,420.7 412.4,420.61" fill="#111"/>
<polygon points="418.4,418.9 419.05,420.61 420.87,420.7 419.45,421.84 419.93,423.6 418.4,422.6 416.87,423.6 417.35,421.84 415.93,420.7 417.75,420.61" fill="#111"/>
<polygon points="423.75,418.9 424.4,420.61 426.22,420.7 424.8,421.84 425.28,423.6 423.75,422.6 422.22,423.6 422.7,421.84 421.28,420.7 423.1,420.61" fill="#111"/>
<polygon points="455.65,409.9 456.3,411.61 458.12,411.7 456.7,412.84 457.18,414.6 455.65,413.6 454.12,414.6 454.6,412.84 453.18,411.7 455,411.61" fill="#111"/>
<polygon points="461,409.9 461.65,411.61 463.47,411.7 462.05,412.84 462.53,414.6 461,413.6 459.47,414.6 459.95,412.84 458.53,411.7 460.35,411.61" fill="#111"/>
<polygon points="466.35,409.9 467,411.61 468.82,411.7 467.4,412.84 467.88,414.6 466.35,413.6 464.82,414.6 465.3,412.84 463.88,411.7 465.7,411.61" fill="#111"/>
<path d="M455.2,461.8 L458.6,438" stroke="#000" stroke-width="2.4"/>
<polygon points="454.7,439.6 463.8,439.6 460.6,429.2" fill="#000"/>
<text x="399.4" y="477.5" font-size="13" textLength="119.3" lengthAdjust="spacingAndGlyphs">686.9 &#177; 148.3 pg/mL</text>
<text transform="translate(257.8,466.3) rotate(-90)" text-anchor="middle" font-size="15" textLength="144.2" lengthAdjust="spacingAndGlyphs">% secreted huCXCL5</text>
<text transform="translate(274.8,466) rotate(-90)" text-anchor="middle" font-size="15.4">(norm to ATP<tspan font-size="10.8" dy="3.6">max</tspan><tspan dy="-3.6">)</tspan></text>
</svg>
</body></html>
